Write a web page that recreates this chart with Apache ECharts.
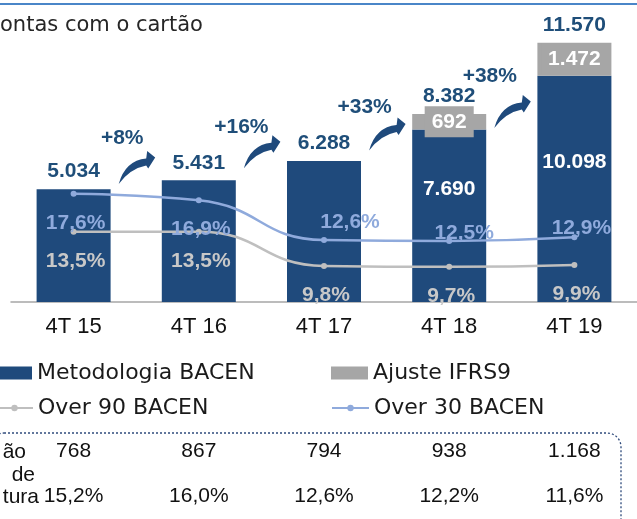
<!DOCTYPE html>
<html>
<head>
<meta charset="utf-8">
<script src="https://cdn.jsdelivr.net/npm/echarts@6/dist/echarts.min.js"></script>
<style>
html,body{margin:0;padding:0;background:#fff;}
#c{width:637px;height:519px;}
</style>
</head>
<body>
<div id="c"></div>
<script>
// ---- data ----
const categories = ['4T 15', '4T 16', '4T 17', '4T 18', '4T 19'];
const bacen = [5034, 5431, 6288, 7690, 10098];
const ifrs9 = [null, null, null, 692, 1472];
const totals = [5034, 5431, 6288, 8382, 11570];
const over90 = [13.5, 13.5, 9.8, 9.7, 9.9];
const over30 = [17.6, 16.9, 12.6, 12.5, 12.9];
const growth = ['+8%', '+16%', '+33%', '+38%'];
const provisao = [768, 867, 794, 938, 1168];
const cobertura = [15.2, 16.0, 12.6, 12.2, 11.6];
const rowLabels = ['ão', 'de', 'tura'];

// ---- layout (annotation placement only) ----
const arrowLevel = [6000, 6700, 7500, 8500];
const growthLabelOffset = [[-14, -29], [-20, -25], [-22, -27], [-22, -35]];
const over30LabelOffset = [[2, 29], [2, 29], [26, -18], [15, -8], [7, -9]];

const NAVY = '#1f4a7c';
const NAVY_TXT = '#1f4e79';
const GRAY = '#a6a6a6';
const L90 = '#bfbfbf';
const L30 = '#8faadc';
const NUMF = 'Liberation Sans';
const TXTF = 'DejaVu Sans';

function thou(v) { return String(v).replace(/\B(?=(\d{3})+(?!\d))/g, '.'); }
function pct(v) { return v.toFixed(1).replace('.', ',') + '%'; }

const ARROW = [[-17.5,16.5],[-11,-7],[10,-9],[11,-16.5],[19,-10],[12,1],[10,-2],[-6,1]];
function arrowPath(cx, cy) {
  const p = ARROW.map(a => [(a[0] + cx).toFixed(1), (a[1] + cy).toFixed(1)]);
  return 'M' + p[0].join(' ') + ' Q' + p[1].join(' ') + ' ' + p[2].join(' ') +
    ' L' + p[3].join(' ') + ' L' + p[4].join(' ') + ' L' + p[5].join(' ') + ' L' + p[6].join(' ') +
    ' Q' + p[7].join(' ') + ' ' + p[0].join(' ') + ' Z';
}

const chart = echarts.init(document.getElementById('c'), null, {renderer: 'canvas'});

const baseLabel = {fontFamily: NUMF, fontWeight: 'bold', fontSize: 21};
const legendText = {fontFamily: TXTF, fontSize: 22, color: '#1a1a1a', lineHeight: 22};

chart.setOption({
  animation: false,
  grid: {left: 11, right: 0, top: 33, bottom: 217},
  legend: [
    {data: ['Metodologia BACEN'], left: -5, top: 362, icon: 'rect', itemWidth: 37, itemHeight: 13, padding: 0, textStyle: legendText, selectedMode: false},
    {data: ['Ajuste IFRS9'], left: 331, top: 362, icon: 'rect', itemWidth: 37, itemHeight: 13, padding: 0, textStyle: legendText, selectedMode: false},
    {data: ['Over 90 BACEN'], left: -5, top: 397, itemWidth: 37, itemHeight: 8, padding: 0, textStyle: legendText, selectedMode: false},
    {data: ['Over 30 BACEN'], left: 331, top: 397, itemWidth: 37, itemHeight: 8, padding: 0, textStyle: legendText, selectedMode: false}
  ],
  xAxis: [
    {type: 'category', data: categories, position: 'bottom',
      axisLine: {lineStyle: {color: '#a6a6a6', width: 1.5}}, axisTick: {show: false},
      axisLabel: {interval: 0, margin: 14, fontFamily: NUMF, fontSize: 22, color: '#111'}},
    {type: 'category', data: provisao.map(thou), position: 'bottom', offset: 125,
      axisLine: {show: false}, axisTick: {show: false},
      axisLabel: {interval: 0, margin: 14, fontFamily: NUMF, fontSize: 21, color: '#111'}},
    {type: 'category', data: cobertura.map(pct), position: 'bottom', offset: 170,
      axisLine: {show: false}, axisTick: {show: false},
      axisLabel: {interval: 0, margin: 14, fontFamily: NUMF, fontSize: 21, color: '#111'}}
  ],
  yAxis: [
    {type: 'value', min: 0, max: 12000, show: false, splitLine: {show: false}},
    {type: 'value', min: 5.9, max: 35, show: false, splitLine: {show: false}}
  ],
  series: [
    {name: 'Metodologia BACEN', type: 'bar', stack: 'a', barWidth: 74,
      itemStyle: {color: NAVY},
      data: bacen.map((v, i) => ({value: v, label: {show: ifrs9[i] != null}})),
      label: Object.assign({position: 'inside', offset: [0, -27], color: '#fff',
        formatter: p => thou(p.value)}, baseLabel)},
    {name: 'Ajuste IFRS9', type: 'bar', stack: 'a', barWidth: 74,
      itemStyle: {color: GRAY},
      data: ifrs9,
      label: Object.assign({show: true, position: 'inside', color: '#fff',
        backgroundColor: GRAY, padding: [5, 7],
        formatter: p => thou(p.value)}, baseLabel)},
    {name: 'Total', type: 'scatter', symbol: 'rect', symbolSize: 0.01, itemStyle: {color: NAVY, opacity: 1},
      data: totals, z: 5, emphasis: {disabled: true},
      label: Object.assign({show: true, position: 'top', distance: 7, color: NAVY_TXT, opacity: 1,
        formatter: p => thou(p.value)}, baseLabel)},
    {name: 'Over 90 BACEN', type: 'line', yAxisIndex: 1, smooth: true,
      symbol: 'circle', symbolSize: 6, showSymbol: true,
      lineStyle: {color: L90, width: 2.5}, itemStyle: {color: L90},
      data: over90, z: 4,
      label: Object.assign({show: true, position: 'inside', offset: [2, 29], color: '#c8c8c8',
        formatter: p => pct(p.value)}, baseLabel)},
    {name: 'Over 30 BACEN', type: 'line', yAxisIndex: 1, smooth: true,
      symbol: 'circle', symbolSize: 6, showSymbol: true,
      lineStyle: {color: L30, width: 2.5}, itemStyle: {color: L30},
      data: over30.map((v, i) => ({value: v, label: {offset: over30LabelOffset[i]}})), z: 4,
      label: Object.assign({show: true, position: 'inside', color: L30,
        formatter: p => pct(p.value)}, baseLabel)},
    {name: 'growth', type: 'custom', coordinateSystem: 'cartesian2d', z: 6,
      data: growth.map((g, i) => [i, arrowLevel[i]]),
      renderItem: function (params, api) {
        const i = api.value(0);
        const a = api.coord([i, api.value(1)]);
        const b = api.coord([i + 1, api.value(1)]);
        const cx = (a[0] + b[0]) / 2, cy = a[1];
        const off = growthLabelOffset[i];
        return {type: 'group', children: [
          {type: 'path', shape: {pathData: arrowPath(cx, cy)}, style: {fill: NAVY}},
          {type: 'text', x: cx + off[0], y: cy + off[1],
            style: {text: growth[i], fill: NAVY_TXT, fontFamily: NUMF, fontWeight: 'bold', fontSize: 21,
              align: 'center', verticalAlign: 'middle'}}
        ]};
      }}
  ],
  graphic: [
    {type: 'line', shape: {x1: 0, y1: 4, x2: 637, y2: 4}, style: {stroke: '#4a86c8', lineWidth: 2}},
    {type: 'text', x: 0, y: 26, style: {text: 'ontas com o cartão', fontFamily: TXTF, fontSize: 21, fill: '#262626', align: 'left', verticalAlign: 'middle'}},
    {type: 'rect', shape: {x: -10, y: 433, width: 631, height: 110, r: 14},
      style: {fill: 'none', stroke: '#2f4b7c', lineWidth: 1.3, lineDash: [2, 2]}},
    {type: 'text', x: 26, y: 452, style: {text: rowLabels[0], fontFamily: NUMF, fontSize: 21, fill: '#111', align: 'right', verticalAlign: 'middle'}},
    {type: 'text', x: 35, y: 475, style: {text: rowLabels[1], fontFamily: NUMF, fontSize: 21, fill: '#111', align: 'right', verticalAlign: 'middle'}},
    {type: 'text', x: 39, y: 497, style: {text: rowLabels[2], fontFamily: NUMF, fontSize: 21, fill: '#111', align: 'right', verticalAlign: 'middle'}}
  ]
});
</script>
</body>
</html>
